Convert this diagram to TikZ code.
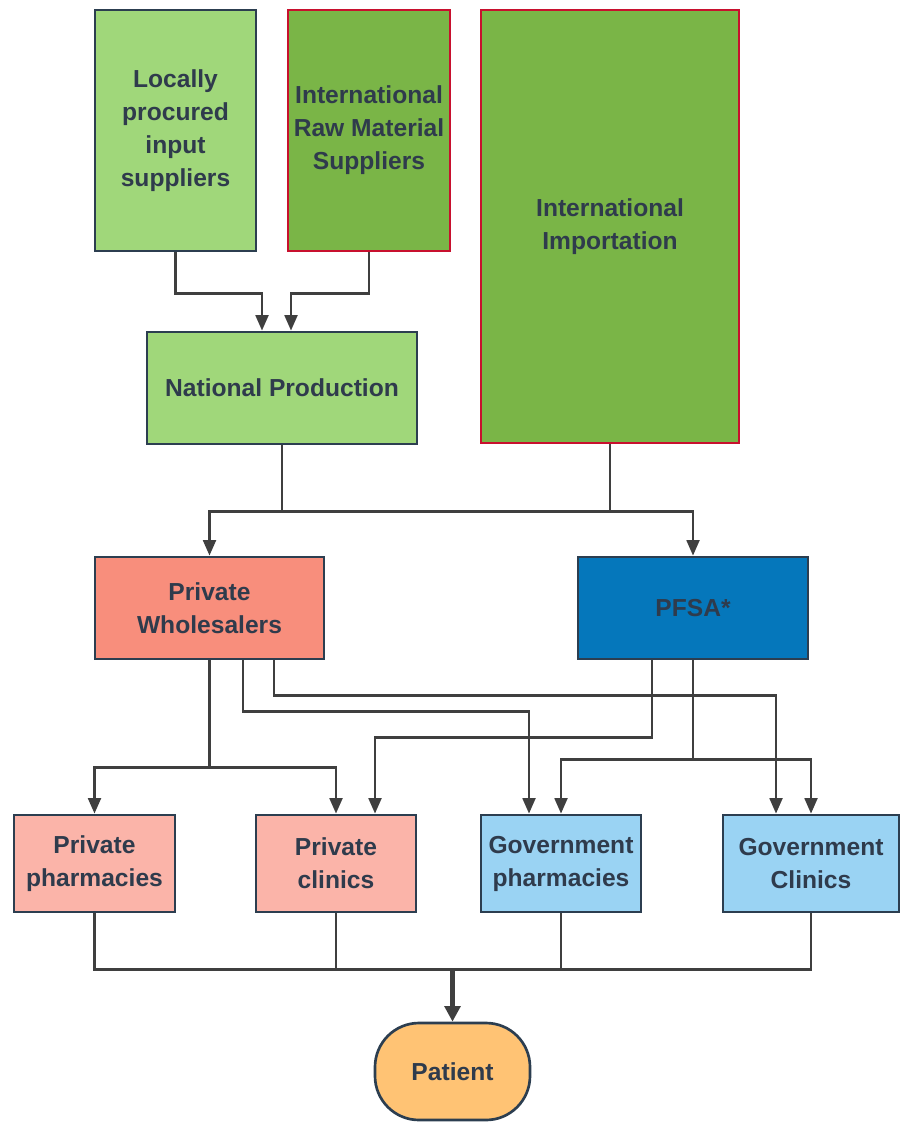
\documentclass[tikz,border=0pt]{standalone}
\usepackage{fontspec}
\setmainfont{Liberation Sans}
\usepackage{xcolor}
\usepackage{tikz}
\usetikzlibrary{arrows.meta,calc}

\definecolor{lightgreen}{HTML}{A0D77A}
\definecolor{darkgreen}{HTML}{7AB547}
\definecolor{borderred}{HTML}{C8102E}
\definecolor{bordernavy}{HTML}{2C3E50}
\definecolor{textnavy}{HTML}{2F3B4C}
\definecolor{wholesalered}{HTML}{F88E7C}
\definecolor{privatepink}{HTML}{FBB4A9}
\definecolor{pfsablue}{HTML}{0577BB}
\definecolor{govblue}{HTML}{9AD3F3}
\definecolor{patientorange}{HTML}{FFC374}
\definecolor{linegray}{HTML}{3F3F3F}

\begin{document}
\begin{tikzpicture}[x=0.025cm,y=-0.025cm,
    boxsize/.style 2 args={minimum width=#1*0.025cm,minimum height=#2*0.025cm},
    unit/.style={draw=bordernavy,line width=1.9pt,align=center,inner sep=0pt,
      text=textnavy,font=\fontsize{17.5pt}{23.5pt}\selectfont\bfseries},
    import/.style={unit,draw=borderred,fill=darkgreen},
    link/.style={draw=linegray,line width=2pt},
    conn/.style={link,-{Triangle[length=11pt,width=9pt]}},
    bigconn/.style={draw=linegray,line width=3.4pt,-{Triangle[length=11pt,width=11pt]}}]
  \useasboundingbox (0,0) rectangle (901,1122);

  % supply side
  \node[unit,fill=lightgreen,boxsize={161}{241}] (local) at (175.5,130.5)
    {Locally\\procured\\input\\suppliers};
  \node[import,boxsize={162}{241}] (raw) at (369,130.5)
    {International\\Raw Material\\Suppliers};
  \node[import,boxsize={258}{433}] (imp) at (610,226.5)
    {International\\Importation};
  \node[unit,fill=lightgreen,boxsize={270}{112}] (np) at (282,388)
    {National Production};

  % distributors
  \node[unit,fill=wholesalered,boxsize={229}{102}] (pw) at (209.5,608)
    {Private\\Wholesalers};
  \node[unit,fill=pfsablue,boxsize={230}{102}] (pfsa) at (693,608) {PFSA*};

  % outlets
  \node[unit,fill=privatepink,boxsize={161}{97}] (pph) at (94.5,863.5)
    {Private\\pharmacies};
  \node[unit,fill=privatepink,boxsize={160}{97}] (pcl) at (336,863.5)
    {Private\\clinics};
  \node[unit,fill=govblue,boxsize={160}{97}] (gph) at (561,863.5)
    {Government\\pharmacies};
  \node[unit,fill=govblue,boxsize={176}{97}] (gcl) at (811,863.5)
    {Government\\Clinics};
  \node[unit,fill=patientorange,rounded corners=1.1cm,boxsize={155}{97}]
    (patient) at (452.5,1071.5) {Patient};

  % inputs to national production
  \draw[conn] (local.south) -- ++(0,41) -| ($(np.north)+(-20,0)$);
  \draw[conn] (raw.south) -- ++(0,41) -| ($(np.north)+(9,0)$);

  % production and importation to distributors
  \draw[conn] (np.south) -- ++(0,66) -| (pw.north);
  \draw[conn] (np.south) -- ++(0,66) -| (pfsa.north);
  \draw[link] (imp.south) -- ++(0,67);

  % wholesalers to outlets
  \draw[conn] (pw.south) -- ++(0,107) -| (pph.north);
  \draw[conn] (pw.south) -- ++(0,107) -| (pcl.north);
  \draw[conn] ($(pw.south)+(33.5,0)$) -- ++(0,51) -| ($(gph.north)+(-32,0)$);
  \draw[conn] ($(pw.south)+(64.5,0)$) -- ++(0,35) -| ($(gcl.north)+(-35,0)$);

  % PFSA to outlets
  \draw[conn] ($(pfsa.south)+(-41,0)$) -- ++(0,77) -| ($(pcl.north)+(39,0)$);
  \draw[conn] (pfsa.south) -- ++(0,99) -| (gph.north);
  \draw[conn] (pfsa.south) -- ++(0,99) -| (gcl.north);

  % outlets to patient
  \coordinate (merge) at ($(pph.south)+(0,56)$);
  \draw[link] (pph.south) -- (merge) -| (gcl.south);
  \draw[link] (pcl.south) -- (pcl.south |- merge);
  \draw[link] (gph.south) -- (gph.south |- merge);
  \draw[bigconn] (patient.north |- merge) -- (patient.north);
\end{tikzpicture}
\end{document}
